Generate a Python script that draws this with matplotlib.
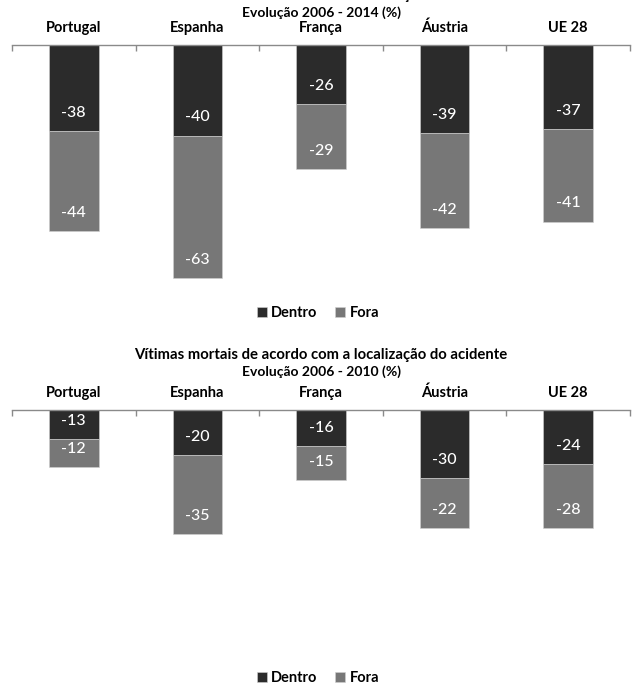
import matplotlib
matplotlib.use("Agg")
import matplotlib.pyplot as plt
import numpy as np

plt.rcParams['font.family'] = ['Lato', 'DejaVu Sans']

categories = ["Portugal", "Espanha", "França", "Áustria", "UE 28"]
series_names = ["Dentro", "Fora"]

dentro_2014 = [-38, -40, -26, -39, -37]
fora_2014 = [-44, -63, -29, -42, -41]

dentro_2010 = [-13, -20, -16, -30, -24]
fora_2010 = [-12, -35, -15, -22, -28]

main_title = "Vítimas mortais de acordo com a localização do acidente"
subtitle_2014 = "Evolução 2006 - 2014 (%)"
subtitle_2010 = "Evolução 2006 - 2010 (%)"

colors = ["#2b2b2b", "#777777"]

W, H = 632, 684
DPI = 100
fig = plt.figure(figsize=(W / DPI, H / DPI), dpi=DPI)

YMIN = -108
SCALE = 2.263  # pixels per unit
AX_LEFT, AX_RIGHT = 12, 630


def px_box(top_px):
    height_px = -YMIN * SCALE
    return [AX_LEFT / W, 1 - (top_px + height_px) / H,
            (AX_RIGHT - AX_LEFT) / W, height_px / H]


def draw_panel(top_px, dentro, fora, legend_y_px):
    ax = fig.add_axes(px_box(top_px))
    x = np.arange(len(categories))
    b1 = ax.bar(x, dentro, width=0.4, color=colors[0], label=series_names[0],
                edgecolor="#d0d0d0", linewidth=0.4)
    b2 = ax.bar(x, fora, width=0.4, bottom=dentro, color=colors[1],
                label=series_names[1], edgecolor="#d0d0d0", linewidth=0.4)
    for bars, vals, base in ((b1, dentro, [0] * len(x)), (b2, fora, dentro)):
        for xi, v, b0 in zip(x, vals, base):
            ax.annotate(f"{v}", xy=(xi, b0 + v), xytext=(0, 13),
                        textcoords="offset points", ha="center", va="center",
                        color="white", fontsize=11.5, fontweight="medium")
    ax.set_xlim(-0.5, len(categories) - 0.5)
    ax.set_ylim(YMIN, 0)
    for s in ("left", "right", "bottom"):
        ax.spines[s].set_visible(False)
    ax.spines["top"].set_color("#8a8a8a")
    ax.spines["top"].set_linewidth(1.0)
    ax.set_yticks([])
    ax.xaxis.set_ticks_position("top")
    ax.set_xticks(x)
    ax.set_xticklabels(categories, fontsize=10.5, fontweight="bold")
    ax.tick_params(axis="x", which="major", length=0, pad=7)
    ax.set_xticks(np.arange(-0.5, len(categories)), minor=True)
    ax.tick_params(axis="x", which="minor", direction="in", length=4,
                   color="#8a8a8a", width=1.0)
    ax.legend(loc="center", bbox_to_anchor=(318 / W, 1 - (legend_y_px + 1) / H),
              bbox_transform=fig.transFigure, ncol=2, frameon=False,
              prop={"weight": "bold", "size": 10.5}, handlelength=0.7,
              handleheight=0.7, handletextpad=0.3, columnspacing=1.2)
    return ax


draw_panel(45, dentro_2014, fora_2014, 312)
draw_panel(410, dentro_2010, fora_2010, 677)

cx = 321 / W
fig.text(cx, 1 - (-5) / H, main_title, ha="center", va="center",
         fontsize=10.7, fontweight="bold")
fig.text(cx, 1 - 13 / H, subtitle_2014, ha="center", va="center",
         fontsize=10, fontweight="bold")
fig.text(cx, 1 - 355 / H, main_title, ha="center", va="center",
         fontsize=10.7, fontweight="bold")
fig.text(cx, 1 - 372 / H, subtitle_2010, ha="center", va="center",
         fontsize=10, fontweight="bold")

fig.savefig("out.png", dpi=DPI, facecolor="white")
